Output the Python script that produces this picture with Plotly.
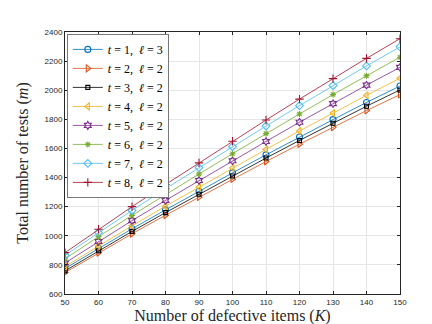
import plotly.graph_objects as go

K = [50, 60, 70, 80, 90, 100, 110, 120, 130, 140, 150]

m_t1_l3 = [775, 914, 1048, 1178, 1306, 1432, 1556, 1679, 1798, 1916, 2029]
m_t2_l2 = [747, 883, 1014, 1141, 1265, 1389, 1510, 1629, 1745, 1860, 1970]
m_t3_l2 = [759, 897, 1030, 1159, 1285, 1411, 1534, 1655, 1773, 1890, 2002]
m_t4_l2 = [788, 931, 1069, 1203, 1335, 1465, 1593, 1720, 1843, 1965, 2082]
m_t5_l2 = [813, 961, 1104, 1243, 1380, 1515, 1648, 1780, 1908, 2035, 2157]
m_t6_l2 = [841, 994, 1140, 1284, 1424, 1564, 1702, 1837, 1970, 2100, 2227]
m_t7_l2 = [866, 1023, 1174, 1323, 1468, 1612, 1754, 1894, 2032, 2167, 2298]
m_t8_l2 = [884, 1045, 1200, 1352, 1501, 1649, 1795, 1939, 2080, 2219, 2354]

names = ["<i>t</i> = 1,  <i>ℓ</i> = 3", "<i>t</i> = 2,  <i>ℓ</i> = 2",
         "<i>t</i> = 3,  <i>ℓ</i> = 2", "<i>t</i> = 4,  <i>ℓ</i> = 2",
         "<i>t</i> = 5,  <i>ℓ</i> = 2", "<i>t</i> = 6,  <i>ℓ</i> = 2",
         "<i>t</i> = 7,  <i>ℓ</i> = 2", "<i>t</i> = 8,  <i>ℓ</i> = 2"]
series = [m_t1_l3, m_t2_l2, m_t3_l2, m_t4_l2, m_t5_l2, m_t6_l2, m_t7_l2, m_t8_l2]

# matlab default colours + black
colors = ["#0072BD", "#D95319", "#000000", "#EDB120",
          "#7E2F8E", "#77AC30", "#4DBEEE", "#A2142F"]
symbols = ["circle-open", "triangle-right-open", "square-open", "triangle-left-open",
           "hexagram-open", "asterisk-open", "diamond-open", "cross-thin-open"]
sizes = [6, 6, 4, 6, 6, 5, 6, 6]

serif = "Liberation Serif"

fig = go.Figure()
for name, vals, c, sym, sz in zip(names, series, colors, symbols, sizes):
    fig.add_trace(go.Scatter(
        x=K, y=vals, name=name, mode="lines+markers",
        line=dict(color=c, width=0.8),
        marker=dict(symbol=sym, size=sz, color=c, line=dict(color=c, width=1.1)),
    ))

axis_common = dict(
    showline=True, linecolor="#262626", linewidth=1, mirror="ticks",
    ticks="inside", ticklen=3, tickcolor="#262626",
    showgrid=True, gridcolor="#e6e6e6", gridwidth=1, zeroline=False,
    tickfont=dict(family="Liberation Sans", size=8, color="#262626"),
)

fig.update_layout(
    width=432, height=324,
    margin=dict(l=57, r=40, t=24, b=36),
    plot_bgcolor="white", paper_bgcolor="white",
    xaxis=dict(range=[50, 150], tickvals=list(range(50, 151, 10)),
               title=dict(text="Number of defective items (<i>K</i>)",
                          font=dict(family=serif, size=16, color="#262626"), standoff=2),
               **axis_common),
    yaxis=dict(range=[600, 2400], tickvals=list(range(600, 2401, 200)),
               title=dict(text="Total number of tests (<i>m</i>)",
                          font=dict(family=serif, size=16, color="#262626"), standoff=12),
               **axis_common),
    legend=dict(x=0.006, y=0.992, xanchor="left", yanchor="top",
                bgcolor="white", bordercolor="#555555", borderwidth=0.8,
                font=dict(family=serif, size=12, color="#000000"),
                tracegroupgap=0, itemwidth=30),
    showlegend=True,
)

fig.write_html("out.html")
